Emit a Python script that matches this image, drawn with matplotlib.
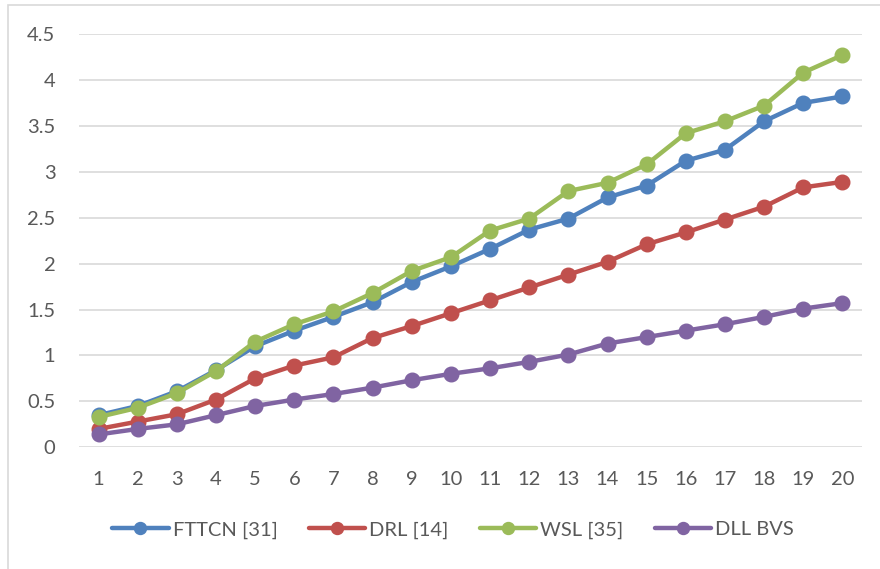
import matplotlib
matplotlib.use("Agg")
import matplotlib.pyplot as plt
from matplotlib.patches import Rectangle

plt.rcParams['font.family'] = ['Lato', 'DejaVu Sans']

categories = list(range(1, 21))
series_names = ["FTTCN [31]", "DRL [14]", "WSL [35]", "DLL BVS"]
fttcn = [0.35, 0.45, 0.61, 0.84, 1.10, 1.27, 1.42, 1.58, 1.80, 1.97,
         2.16, 2.37, 2.49, 2.72, 2.85, 3.12, 3.24, 3.55, 3.75, 3.82]
drl = [0.20, 0.28, 0.36, 0.52, 0.75, 0.89, 0.98, 1.19, 1.32, 1.46,
       1.60, 1.74, 1.88, 2.02, 2.21, 2.34, 2.48, 2.62, 2.83, 2.89]
wsl = [0.33, 0.43, 0.59, 0.83, 1.15, 1.34, 1.48, 1.68, 1.92, 2.07,
       2.36, 2.49, 2.79, 2.88, 3.08, 3.42, 3.55, 3.72, 4.08, 4.27]
dll = [0.14, 0.20, 0.25, 0.35, 0.45, 0.52, 0.58, 0.65, 0.73, 0.80,
       0.86, 0.93, 1.01, 1.13, 1.20, 1.27, 1.34, 1.42, 1.51, 1.57]
y_ticks = [0, 0.5, 1, 1.5, 2, 2.5, 3, 3.5, 4, 4.5]
y_tick_labels = ["0", "0.5", "1", "1.5", "2", "2.5", "3", "3.5", "4", "4.5"]

colors = ["#4F81BD", "#C0504D", "#9BBB59", "#8064A2"]

W, H = 880, 569
fig = plt.figure(figsize=(W / 100, H / 100), dpi=100)
fig.patch.set_facecolor("white")

# chart-area border
fig.patches.append(Rectangle((8 / W, -0.05), 1.2, 1 - 5 / H + 0.05,
                             transform=fig.transFigure, fill=False,
                             edgecolor="#D9D9D9", linewidth=1.2))

left, right = 79 / W, 862 / W
top, bottom = 1 - 34 / H, 1 - 447.3 / H
ax = fig.add_axes([left, bottom, right - left, top - bottom])

for vals, name, c in zip([fttcn, drl, wsl, dll], series_names, colors):
    ax.plot(categories, vals, color=c, linewidth=3.2, marker="o",
            markersize=10.5, label=name, solid_capstyle="round", zorder=3)

ax.set_xlim(0.5, 20.5)
ax.set_ylim(0, 4.5)
ax.set_yticks(y_ticks)
ax.set_yticklabels(y_tick_labels)
ax.set_xticks(categories)
ax.set_xticklabels([str(c) for c in categories])
ax.grid(axis="y", color="#D9D9D9", linewidth=1.2, zorder=0)
ax.set_axisbelow(True)
for s in ax.spines.values():
    s.set_visible(False)
ax.tick_params(axis="y", length=0, pad=17, labelsize=14.5, labelcolor="#595959")
ax.tick_params(axis="x", length=0, pad=17, labelsize=14.5, labelcolor="#595959")

leg = fig.legend(loc="center", bbox_to_anchor=(453 / W, 1 - 530 / H),
                 ncol=4, frameon=False, fontsize=14.5, handlelength=2.8,
                 handletextpad=0.2, columnspacing=1.55, markerscale=0.82,
                 labelcolor="#595959")

fig.savefig("out.png", dpi=100, facecolor="white")
